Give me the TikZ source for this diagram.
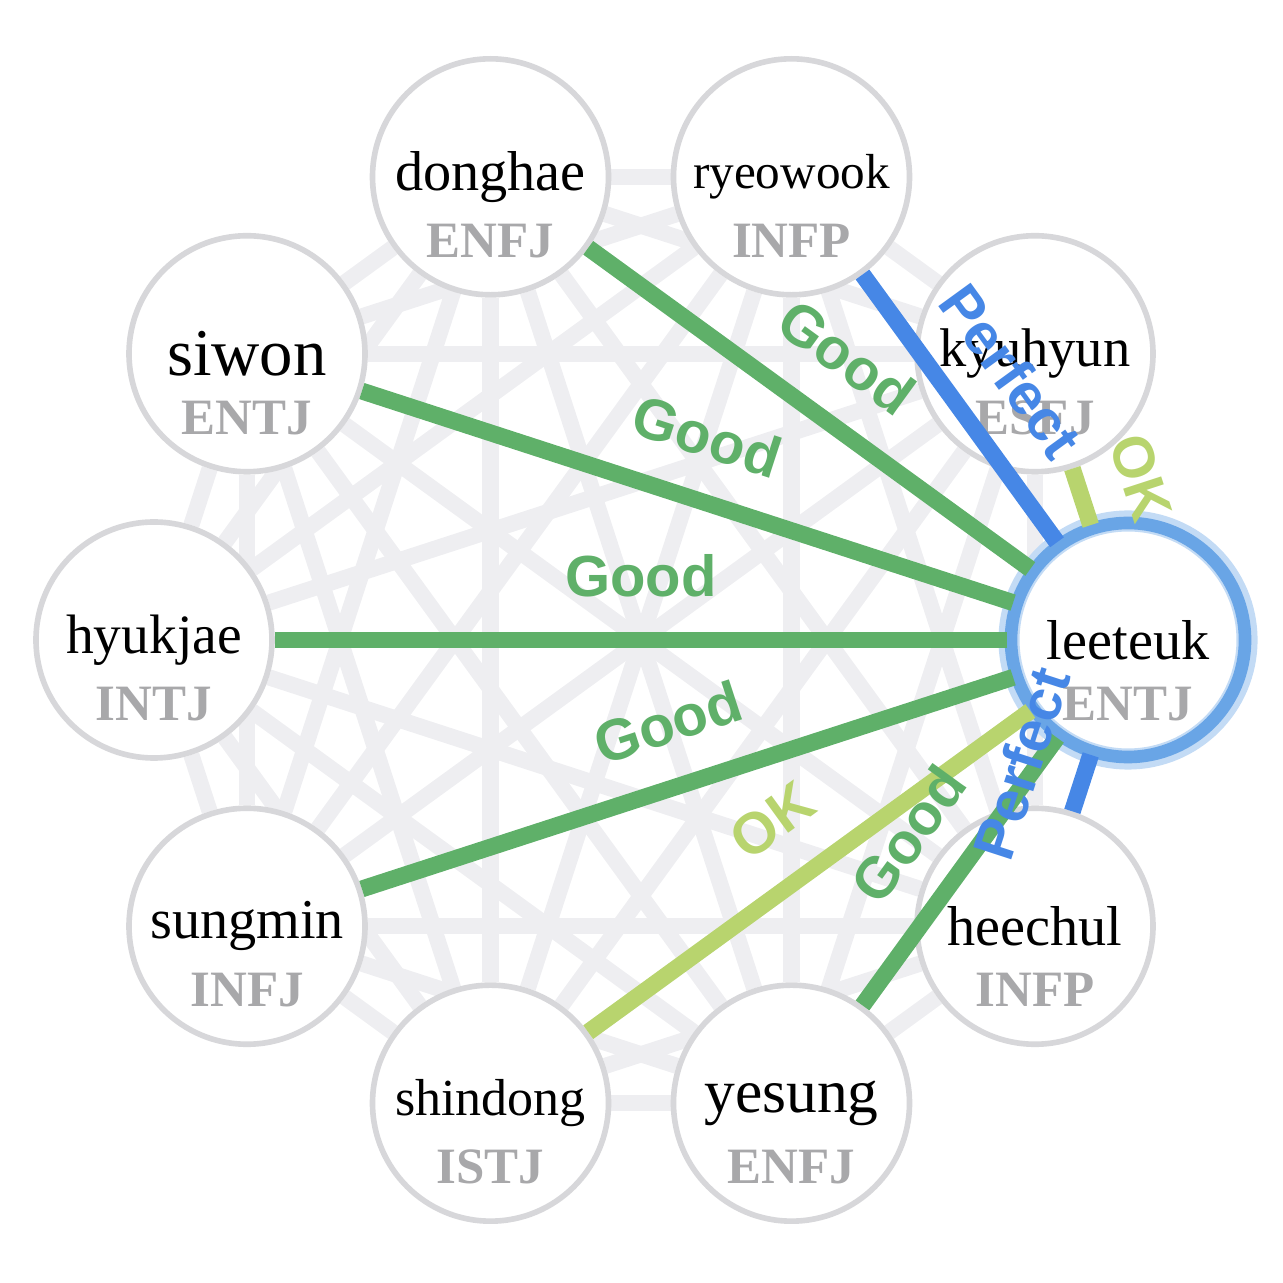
\documentclass[tikz,border=0pt]{standalone}
\usepackage{fontspec}
\setmainfont{Liberation Serif}
\newfontfamily\labelfont{Liberation Sans}
\usetikzlibrary{backgrounds}
\definecolor{goodgreen}{RGB}{95,176,105}
\definecolor{okgreen}{RGB}{184,212,110}
\definecolor{perfectblue}{RGB}{70,135,230}
\definecolor{ringblue}{RGB}{105,165,230}
\definecolor{bgline}{RGB}{238,238,241}
\definecolor{circlegray}{RGB}{215,215,218}
\definecolor{typegray}{RGB}{168,168,170}
\begin{document}
\begin{tikzpicture}
    [
        member/.style={circle, draw=circlegray, fill=white, line width=1.6pt, minimum size=23.6mm, inner sep=0pt},
        mbti/.style={font=\fontsize{14.5}{14.5}\selectfont\bfseries, text=typegray},
        bg_edge/.style={line width=4.6pt, color=bgline},
        match/.style={line width=4.8pt},
        tag/.style={font=\labelfont\fontsize{16.5}{16.5}\selectfont\bfseries, sloped, above=3.4mm, inner sep=0pt, pos=0.5},
    ]
        \useasboundingbox (-6.41,-6.43) rectangle (6.42,6.40);
        % members around the circle
        \foreach \n/\a/\m/\s [count=\c from 0] in {leeteuk/0/ENTJ/16, kyuhyun/36/ESFJ/15.5, ryeowook/72/INFP/14, donghae/108/ENFJ/16,
            siwon/144/ENTJ/19, hyukjae/180/INTJ/15.8, sungmin/216/INFJ/16, shindong/252/ISTJ/14.8,
            yesung/288/ENFJ/17.5, heechul/324/INFP/16}
        {
            \node[member, alias=m\c] (\n) at (\a:4.87) {};
            \node[font=\fontsize{\s}{\s}\selectfont] (\n-name) at (\n) {\n};
            \node[mbti] (\n-type) at ([yshift=-6.4mm]\n) {\m};
        }
        \draw[ringblue!40, line width=6pt] (leeteuk) circle (11.9mm);
        \draw[ringblue, line width=3.6pt] (leeteuk) circle (11.7mm);
        % every pair, faint
        \begin{scope}[on background layer]
            \foreach \i in {0,...,8} {
                \pgfmathtruncatemacro\k{\i+1}
                \foreach \j in {\k,...,9}
                    \draw[bg_edge] (m\i) -- (m\j);
            }
        \end{scope}
        % matches of leeteuk
        \draw[match, goodgreen] (leeteuk) -- node[tag] {Good} (donghae) ;
        \draw[match, perfectblue] (leeteuk) -- node[tag] {Perfect} (ryeowook) ;
        \draw[match, okgreen] (kyuhyun) -- node[tag] {OK} (leeteuk) ;
        \draw[match, goodgreen] (leeteuk) -- node[tag] {Good} (siwon) ;
        \draw[match, goodgreen] (leeteuk) -- node[tag] {Good} (hyukjae) ;
        \draw[match, goodgreen] (leeteuk) -- node[tag] {Good} (sungmin) ;
        \draw[match, okgreen] (leeteuk) -- node[tag] {OK} (shindong) ;
        \draw[match, goodgreen] (leeteuk) -- node[tag] {Good} (yesung) ;
        \draw[match, perfectblue] (leeteuk) -- node[tag] {Perfect} (heechul) ;
\end{tikzpicture}
\end{document}
